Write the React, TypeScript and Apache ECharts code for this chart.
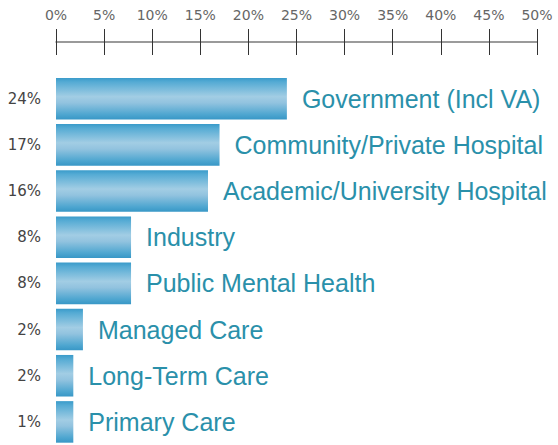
import React, { useEffect, useRef } from "react";
import * as echarts from "echarts";

const categories = [
  "Government (Incl VA)",
  "Community/Private Hospital",
  "Academic/University Hospital",
  "Industry",
  "Public Mental Health",
  "Managed Care",
  "Long-Term Care",
  "Primary Care",
];
const values = [24, 17, 15.8, 7.8, 7.8, 2.8, 1.8, 1.8];
const pctLabels = ["24%", "17%", "16%", "8%", "8%", "2%", "2%", "1%"];
const axisMin = 0;
const axisMax = 50;
const axisInterval = 5;

export default function App() {
  const ref = useRef<HTMLDivElement>(null);
  useEffect(() => {
    document.body.style.margin = "0";
    document.body.style.overflow = "hidden";
    const chart = echarts.init(ref.current!, null, { renderer: "svg" });
    const barColor = new echarts.graphic.LinearGradient(0, 0, 0, 1, [
      { offset: 0, color: "#3a9bca" },
      { offset: 0.1, color: "#55abd4" },
      { offset: 0.45, color: "#a2cde4" },
      { offset: 0.6, color: "#92c3df" },
      { offset: 0.88, color: "#4ea6d0" },
      { offset: 1, color: "#3897c6" },
    ]);
    const xCommon = {
      type: "value" as const,
      position: "top" as const,
      min: axisMin,
      max: axisMax,
      interval: axisInterval,
      offset: 33.6,
      splitLine: { show: false },
    };
    chart.setOption({
      animation: false,
      grid: { left: 56, width: 481, top: 75.6, height: 373.7 },
      xAxis: [
        {
          ...xCommon,
          axisLine: { show: true, lineStyle: { color: "#7a7a7a", width: 1.5 } },
          axisTick: { show: true, inside: false, length: 13, lineStyle: { color: "#333", width: 1 } },
          axisLabel: {
            show: true,
            margin: 20,
            formatter: (v: number) => v + "%",
            fontFamily: "DejaVu Sans",
            fontSize: 14,
            color: "#666",
          },
        },
        {
          ...xCommon,
          axisLine: { show: false },
          axisTick: { show: true, inside: true, length: 13, lineStyle: { color: "#333", width: 1 } },
          axisLabel: { show: false },
        },
      ],
      yAxis: {
        type: "category",
        inverse: true,
        data: categories,
        axisLine: { show: false },
        axisTick: { show: false },
        axisLabel: {
          margin: 15,
          formatter: (_v: string, i: number) => pctLabels[i],
          fontFamily: "DejaVu Sans",
          fontSize: 15,
          color: "#444",
        },
      },
      series: [
        {
          type: "bar",
          xAxisIndex: 0,
          data: values,
          barCategoryGap: "10%",
          itemStyle: { color: barColor },
          label: {
            show: true,
            position: "right",
            distance: 15,
            formatter: "{b}",
            fontFamily: "Liberation Sans",
            fontSize: 25,
            color: "#2a90aa",
          },
        },
      ],
    });
    return () => chart.dispose();
  }, []);
  return <div ref={ref} style={{ width: 558, height: 445 }} />;
}
